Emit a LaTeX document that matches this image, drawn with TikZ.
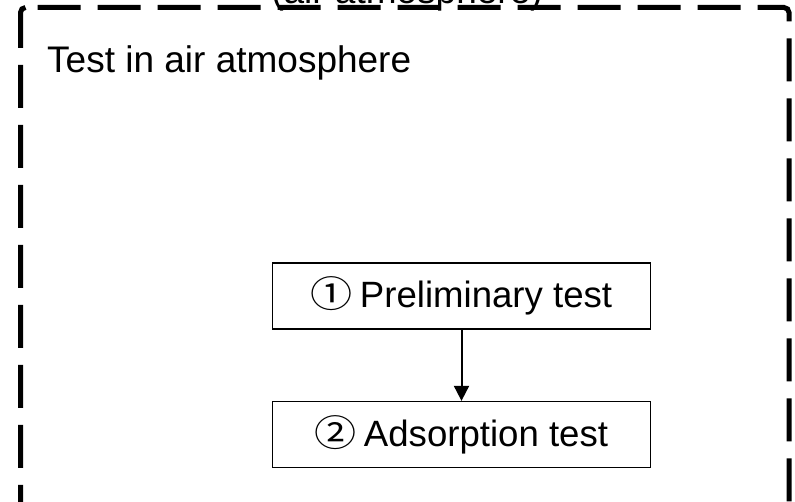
\documentclass[tikz,border=0pt]{standalone}
\usepackage{fontspec}
\setmainfont{Liberation Sans}
\newfontfamily\circfont{Noto Sans CJK JP}
\usetikzlibrary{arrows.meta}

\tikzset{
  frameline/.style={line width=5pt, dash pattern=on 43pt off 17pt},
  stepbox/.style={draw, line width=1.3pt, minimum width=378pt, minimum height=66pt,
                  inner sep=0pt, font=\fontsize{36.6}{40}\selectfont},
  flowarrow/.style={line width=2pt, -{Triangle[length=15pt,width=15pt]}},
  bigtext/.style={inner sep=0pt, font=\fontsize{37}{40}\selectfont}
}

% circled step numbers, a little wider than the CJK glyph
\newcommand{\circnum}[1]{\scalebox{1.15}[1.0]{\circfont #1}}

\begin{document}
\begin{tikzpicture}[x=1pt, y=-1pt]
  \useasboundingbox (0,0) rectangle (795,502);
  \clip (0,0) rectangle (795,502);

  % group frame (dashed), caption sits on its top edge
  \node[bigtext, anchor=base] (frametitle) at (407,4) {(air atmosphere)};
  \draw[frameline, dash phase=43pt, rounded corners=5pt]
    (20.5,7.5) -- (789,7.5) -- (789,560);
  \draw[frameline, rounded corners=5pt]
    (25.5,7.5) -- (20.5,7.5) -- (20.5,560);

  \node[bigtext, anchor=base west] (grouplabel) at (47,73) {Test in air atmosphere};

  % procedure steps
  \node[stepbox] (prelim) at (461.5,296) {\circnum{①}\hspace{7pt}Preliminary test};
  \node[stepbox] (adsorb) at (461.5,434.5) {\circnum{②}\hspace{7pt}Adsorption test};

  \draw[flowarrow] (prelim.south) -- (adsorb.north);
\end{tikzpicture}
\end{document}
